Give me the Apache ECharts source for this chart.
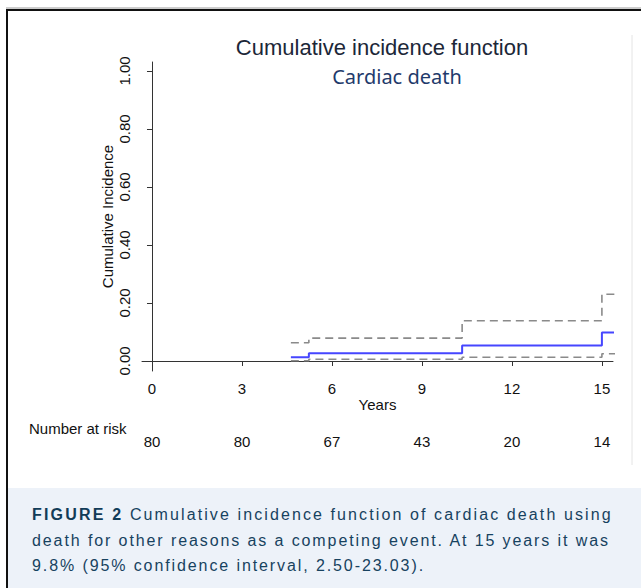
<!DOCTYPE html>
<html>
<head>
<meta charset="utf-8">
<script src="https://cdn.jsdelivr.net/npm/echarts@6/dist/echarts.min.js"></script>
<style>
  html, body { margin: 0; padding: 0; background: #ffffff; }
  #wrap { position: relative; width: 641px; height: 588px; overflow: hidden; }
  #chart { position: absolute; left: 0; top: 0; width: 641px; height: 588px; }
  #caption {
    position: absolute; left: 32px; top: 502px; width: 609px; white-space: nowrap;
    font-family: "Liberation Sans", Arial, sans-serif; font-size: 16px;
    letter-spacing: 1.9px; line-height: 25.5px; color: #17425f;
  }
  #caption .l1 { letter-spacing: 2.1px; }
  #caption b { font-weight: 900; letter-spacing: 2.2px; color: #123c58; }
</style>
</head>
<body>
<div id="wrap">
  <div id="chart"></div>
  <div id="caption"><span class="l1"><b>FIGURE 2</b> Cumulative incidence function of cardiac death using</span><br>death for other reasons as a competing event. At 15 years it was<br>9.8% (95% confidence interval, 2.50-23.03).</div>
</div>
<script>
// ---- data ----
var times  = [4.63, 5.23, 10.34, 15.0, 16.0];
var cif    = [0.013, 0.027, 0.053, 0.098, 0.098];
var upper  = [0.063, 0.079, 0.139, 0.2303, 0.2303];
var lower  = [0.001, 0.006, 0.013, 0.025, 0.025];
var xTicks = [0, 3, 6, 9, 12, 15];
var yTicks = [0, 0.2, 0.4, 0.6, 0.8, 1.0];
var atRisk = [80, 80, 67, 43, 20, 14];

function pairs(xs, ys) { return xs.map(function (x, i) { return [x, ys[i]]; }); }

var chart = echarts.init(document.getElementById('chart'), null, { renderer: 'svg' });
var axisFont = 'Liberation Sans';
var option = {
  animation: false,
  backgroundColor: '#ffffff',
  title: [
    { text: 'Cumulative incidence function', left: 377, top: 31, textAlign: 'center',
      textStyle: { fontFamily: axisFont, fontSize: 22, fontWeight: 'normal', color: '#1c2738' } },
    { text: 'Cardiac death', left: 392, top: 61, textAlign: 'center',
      textStyle: { fontFamily: 'Noto Sans', fontSize: 20, fontWeight: 'normal', color: '#1f3a6b' } },
    { text: 'Number at risk', left: 24, top: 416,
      textStyle: { fontFamily: axisFont, fontSize: 15, fontWeight: 'normal', color: '#111111' } }
  ],
  grid: { left: 142, right: 28, top: 62, bottom: 217 },
  xAxis: [
    { type: 'value', min: -1/3, max: 15.37,
      name: 'Years', nameLocation: 'middle', nameGap: 26, nameMoveOverlap: false,
      nameTextStyle: { fontFamily: axisFont, fontSize: 15, color: '#111111' },
      axisLine: { show: true, lineStyle: { color: '#333333', width: 1 } },
      axisTick: { show: true, length: 5, customValues: xTicks, lineStyle: { color: '#333333' } },
      axisLabel: { customValues: xTicks, margin: 10, fontFamily: axisFont, fontSize: 15, color: '#111111' },
      splitLine: { show: false } },
    { type: 'value', min: -1/3, max: 15.37, position: 'bottom', offset: 63,
      axisLine: { show: false }, axisTick: { show: false },
      axisLabel: { customValues: xTicks, margin: 0, fontFamily: axisFont, fontSize: 15, color: '#111111',
        formatter: function (v) { var i = xTicks.indexOf(Math.round(v)); return i >= 0 ? String(atRisk[i]) : ''; } },
      splitLine: { show: false } }
  ],
  yAxis: { type: 'value', min: -0.0345, max: 1.031,
    name: 'Cumulative Incidence', nameLocation: 'middle', nameGap: 27, nameRotate: 90, nameMoveOverlap: false,
    nameTextStyle: { fontFamily: axisFont, fontSize: 15, color: '#111111' },
    axisLine: { show: true, lineStyle: { color: '#333333', width: 1 } },
    axisTick: { show: true, length: 5, customValues: yTicks, lineStyle: { color: '#333333' } },
    axisLabel: { customValues: yTicks, rotate: 90, margin: 10, fontFamily: axisFont, fontSize: 15, color: '#111111',
      formatter: function (v) { return v.toFixed(2); } },
    splitLine: { show: false } },
  series: [
    { type: 'line', step: 'end', data: pairs(times, upper), symbol: 'none', clip: false,
      lineStyle: { color: '#8a8a8a', width: 1.6, type: [8, 5] } },
    { type: 'line', step: 'end', data: pairs(times, lower), symbol: 'none', clip: false,
      lineStyle: { color: '#8a8a8a', width: 1.6, type: [8, 5] } },
    { type: 'line', step: 'end', data: pairs(times, cif), symbol: 'none', clip: false,
      lineStyle: { color: '#4646ff', width: 2 } }
  ],
  graphic: [
    { type: 'rect', shape: { x: 8, y: 488, width: 633, height: 100 }, style: { fill: '#edf2f9' }, silent: true },
    { type: 'line', shape: { x1: 632, y1: 35, x2: 632, y2: 465 }, style: { stroke: '#e4e4e4', lineWidth: 1 }, silent: true },
    { type: 'line', shape: { x1: 6, y1: 8, x2: 641, y2: 8 }, style: { stroke: '#9a9a9a', lineWidth: 1 }, silent: true },
    { type: 'line', shape: { x1: 6, y1: 10, x2: 641, y2: 10 }, style: { stroke: '#111111', lineWidth: 2 }, silent: true },
    { type: 'line', shape: { x1: 7, y1: 9, x2: 7, y2: 588 }, style: { stroke: '#111111', lineWidth: 2 }, silent: true }
  ]
};
chart.setOption(option);
</script>
</body>
</html>
